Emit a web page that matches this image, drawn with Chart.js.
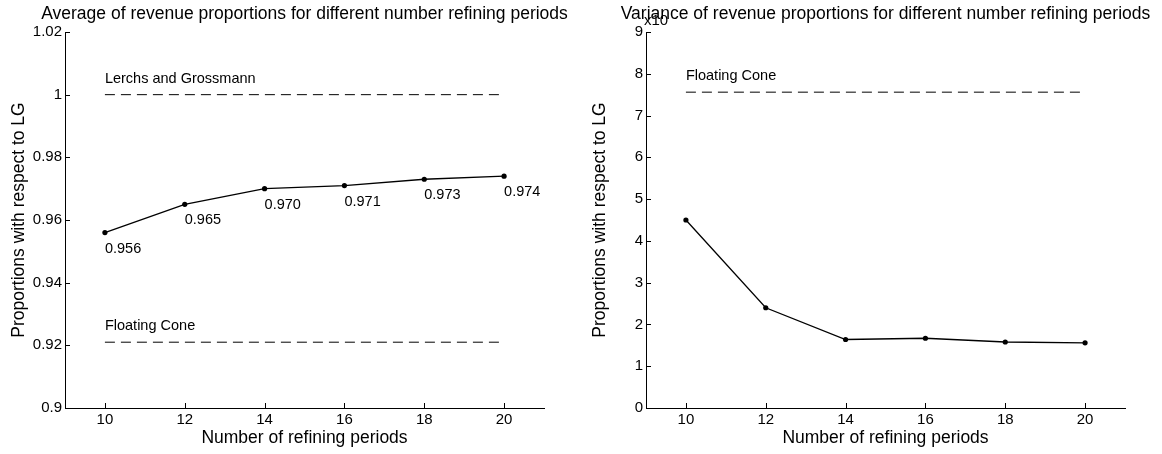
<!DOCTYPE html>
<html>
<head>
<meta charset="utf-8">
<script src="https://cdn.jsdelivr.net/npm/chart.js@4.4.1/dist/chart.umd.min.js"></script>
<style>
  body { margin: 0; background: #fff; }
  .wrap { position: relative; width: 1162px; height: 454px; }
  canvas { position: absolute; top: 0; }
  #avgChart { left: 0; }
  #varChart { left: 581px; }
</style>
</head>
<body>
<div class="wrap">
  <canvas id="avgChart" width="581" height="454"></canvas>
  <canvas id="varChart" width="581" height="454"></canvas>
</div>
<script>
// refining periods on the x axis
const periods = [10, 12, 14, 16, 18, 20];
// average proportion of LG revenue per number of periods
const avgProportion = [0.956, 0.965, 0.970, 0.971, 0.973, 0.974];
const avgLerchsGrossmann = 1.0;
const avgFloatingCone = 0.921;
// variance of the proportions (axis scaled by x10^n)
const varProportion = [4.50, 2.40, 1.64, 1.67, 1.58, 1.56];
const varFloatingCone = 7.56;

const xTicks = [10, 12, 14, 16, 18, 20];
const avgTicks = [0.9, 0.92, 0.94, 0.96, 0.98, 1.0, 1.02];
const varTicks = [0, 1, 2, 3, 4, 5, 6, 7, 8, 9];

const FONT = "'Liberation Sans', Arial, Helvetica, sans-serif";

// matlab-ish decorations: inward ticks, title, text notes, point labels
const matlabAxes = {
  id: 'matlabAxes',
  afterDraw(chart, args, opts) {
    const ctx = chart.ctx;
    const area = chart.chartArea;
    const xs = chart.scales.x, ys = chart.scales.y;
    ctx.save();
    ctx.strokeStyle = '#000';
    ctx.lineWidth = 1;
    ctx.beginPath();
    xs.ticks.forEach(t => {
      const px = Math.round(xs.getPixelForValue(t.value)) + 0.5;
      ctx.moveTo(px, area.bottom);
      ctx.lineTo(px, area.bottom - 5);
    });
    ys.ticks.forEach(t => {
      const py = Math.round(ys.getPixelForValue(t.value)) + 0.5;
      ctx.moveTo(area.left, py);
      ctx.lineTo(area.left + 5, py);
    });
    ctx.stroke();

    ctx.fillStyle = '#000';
    if (opts.exponent) {
      ctx.font = '15px ' + FONT;
      ctx.textAlign = 'left';
      ctx.textBaseline = 'middle';
      ctx.fillText(opts.exponent, area.left - 2, 21);
    }

    ctx.font = '17.5px ' + FONT;
    ctx.textAlign = 'center';
    ctx.textBaseline = 'middle';
    ctx.fillText(opts.title, (area.left + area.right) / 2, 14);

    ctx.font = '14.5px ' + FONT;
    ctx.textAlign = 'left';
    (opts.notes || []).forEach(n => {
      ctx.fillText(n.text, xs.getPixelForValue(n.x), ys.getPixelForValue(n.y) - 16);
    });

    if (opts.pointLabels) {
      const meta = chart.getDatasetMeta(0);
      meta.data.forEach((pt, i) => {
        const v = chart.data.datasets[0].data[i].y;
        ctx.fillText(v.toFixed(3), pt.x, pt.y + 16);
      });
    }
    ctx.restore();
  }
};

function pairs(ys) {
  return periods.map((p, i) => ({ x: p, y: ys[i] }));
}

function levelLine(level) {
  return {
    data: [{ x: periods[0], y: level }, { x: periods[periods.length - 1], y: level }],
    borderColor: '#000',
    borderWidth: 1,
    borderDash: [10, 6],
    pointRadius: 0,
    fill: false
  };
}

function makeOptions(yMin, yMax, yTicks, fmt, plug) {
  return {
    responsive: false,
    animation: false,
    devicePixelRatio: 1,
    layout: { padding: { left: 0, right: 37, top: 32, bottom: 0 } },
    plugins: {
      legend: { display: false },
      tooltip: { enabled: false },
      matlabAxes: plug
    },
    scales: {
      x: {
        type: 'linear',
        min: 9,
        max: 21,
        afterBuildTicks: s => { s.ticks = xTicks.map(v => ({ value: v })); },
        afterFit: s => { s.height = 46; },
        grid: { display: false, tickLength: 0 },
        border: { display: true, color: '#000', width: 1 },
        ticks: {
          color: '#000',
          font: { family: FONT, size: 15 },
          padding: 3,
          maxRotation: 0,
          autoSkip: false,
          callback: v => String(v)
        },
        title: {
          display: true,
          text: 'Number of refining periods',
          color: '#000',
          font: { family: FONT, size: 17.5 },
          padding: { top: 0, bottom: 5 }
        }
      },
      y: {
        type: 'linear',
        min: yMin,
        max: yMax,
        afterBuildTicks: s => { s.ticks = yTicks.map(v => ({ value: v })); },
        afterFit: s => { s.width = 65; },
        grid: { display: false, tickLength: 0 },
        border: { display: true, color: '#000', width: 1 },
        ticks: {
          color: '#000',
          font: { family: FONT, size: 15 },
          padding: 3,
          autoSkip: false,
          callback: fmt
        },
        title: {
          display: true,
          text: 'Proportions with respect to LG',
          color: '#000',
          font: { family: FONT, size: 17.5 },
          padding: { top: 9, bottom: 0 }
        }
      }
    }
  };
}

const mainLine = {
  borderColor: '#000',
  borderWidth: 1.3,
  pointRadius: 2.6,
  pointBackgroundColor: '#000',
  pointBorderWidth: 0,
  tension: 0,
  fill: false
};

new Chart(document.getElementById('avgChart'), {
  type: 'line',
  data: {
    datasets: [
      Object.assign({ data: pairs(avgProportion) }, mainLine),
      levelLine(avgLerchsGrossmann),
      levelLine(avgFloatingCone)
    ]
  },
  options: makeOptions(0.9, 1.02, avgTicks, v => String(parseFloat(v.toFixed(2))), {
    title: 'Average of revenue proportions for different number refining periods',
    notes: [
      { text: 'Lerchs and Grossmann', x: 10, y: avgLerchsGrossmann },
      { text: 'Floating Cone', x: 10, y: avgFloatingCone }
    ],
    pointLabels: true
  }),
  plugins: [matlabAxes]
});

new Chart(document.getElementById('varChart'), {
  type: 'line',
  data: {
    datasets: [
      Object.assign({ data: pairs(varProportion) }, mainLine),
      levelLine(varFloatingCone)
    ]
  },
  options: makeOptions(0, 9, varTicks, v => String(v), {
    title: 'Variance of revenue proportions for different number refining periods',
    notes: [
      { text: 'Floating Cone', x: 10, y: varFloatingCone }
    ],
    exponent: 'x10'
  }),
  plugins: [matlabAxes]
});
</script>
</body>
</html>
